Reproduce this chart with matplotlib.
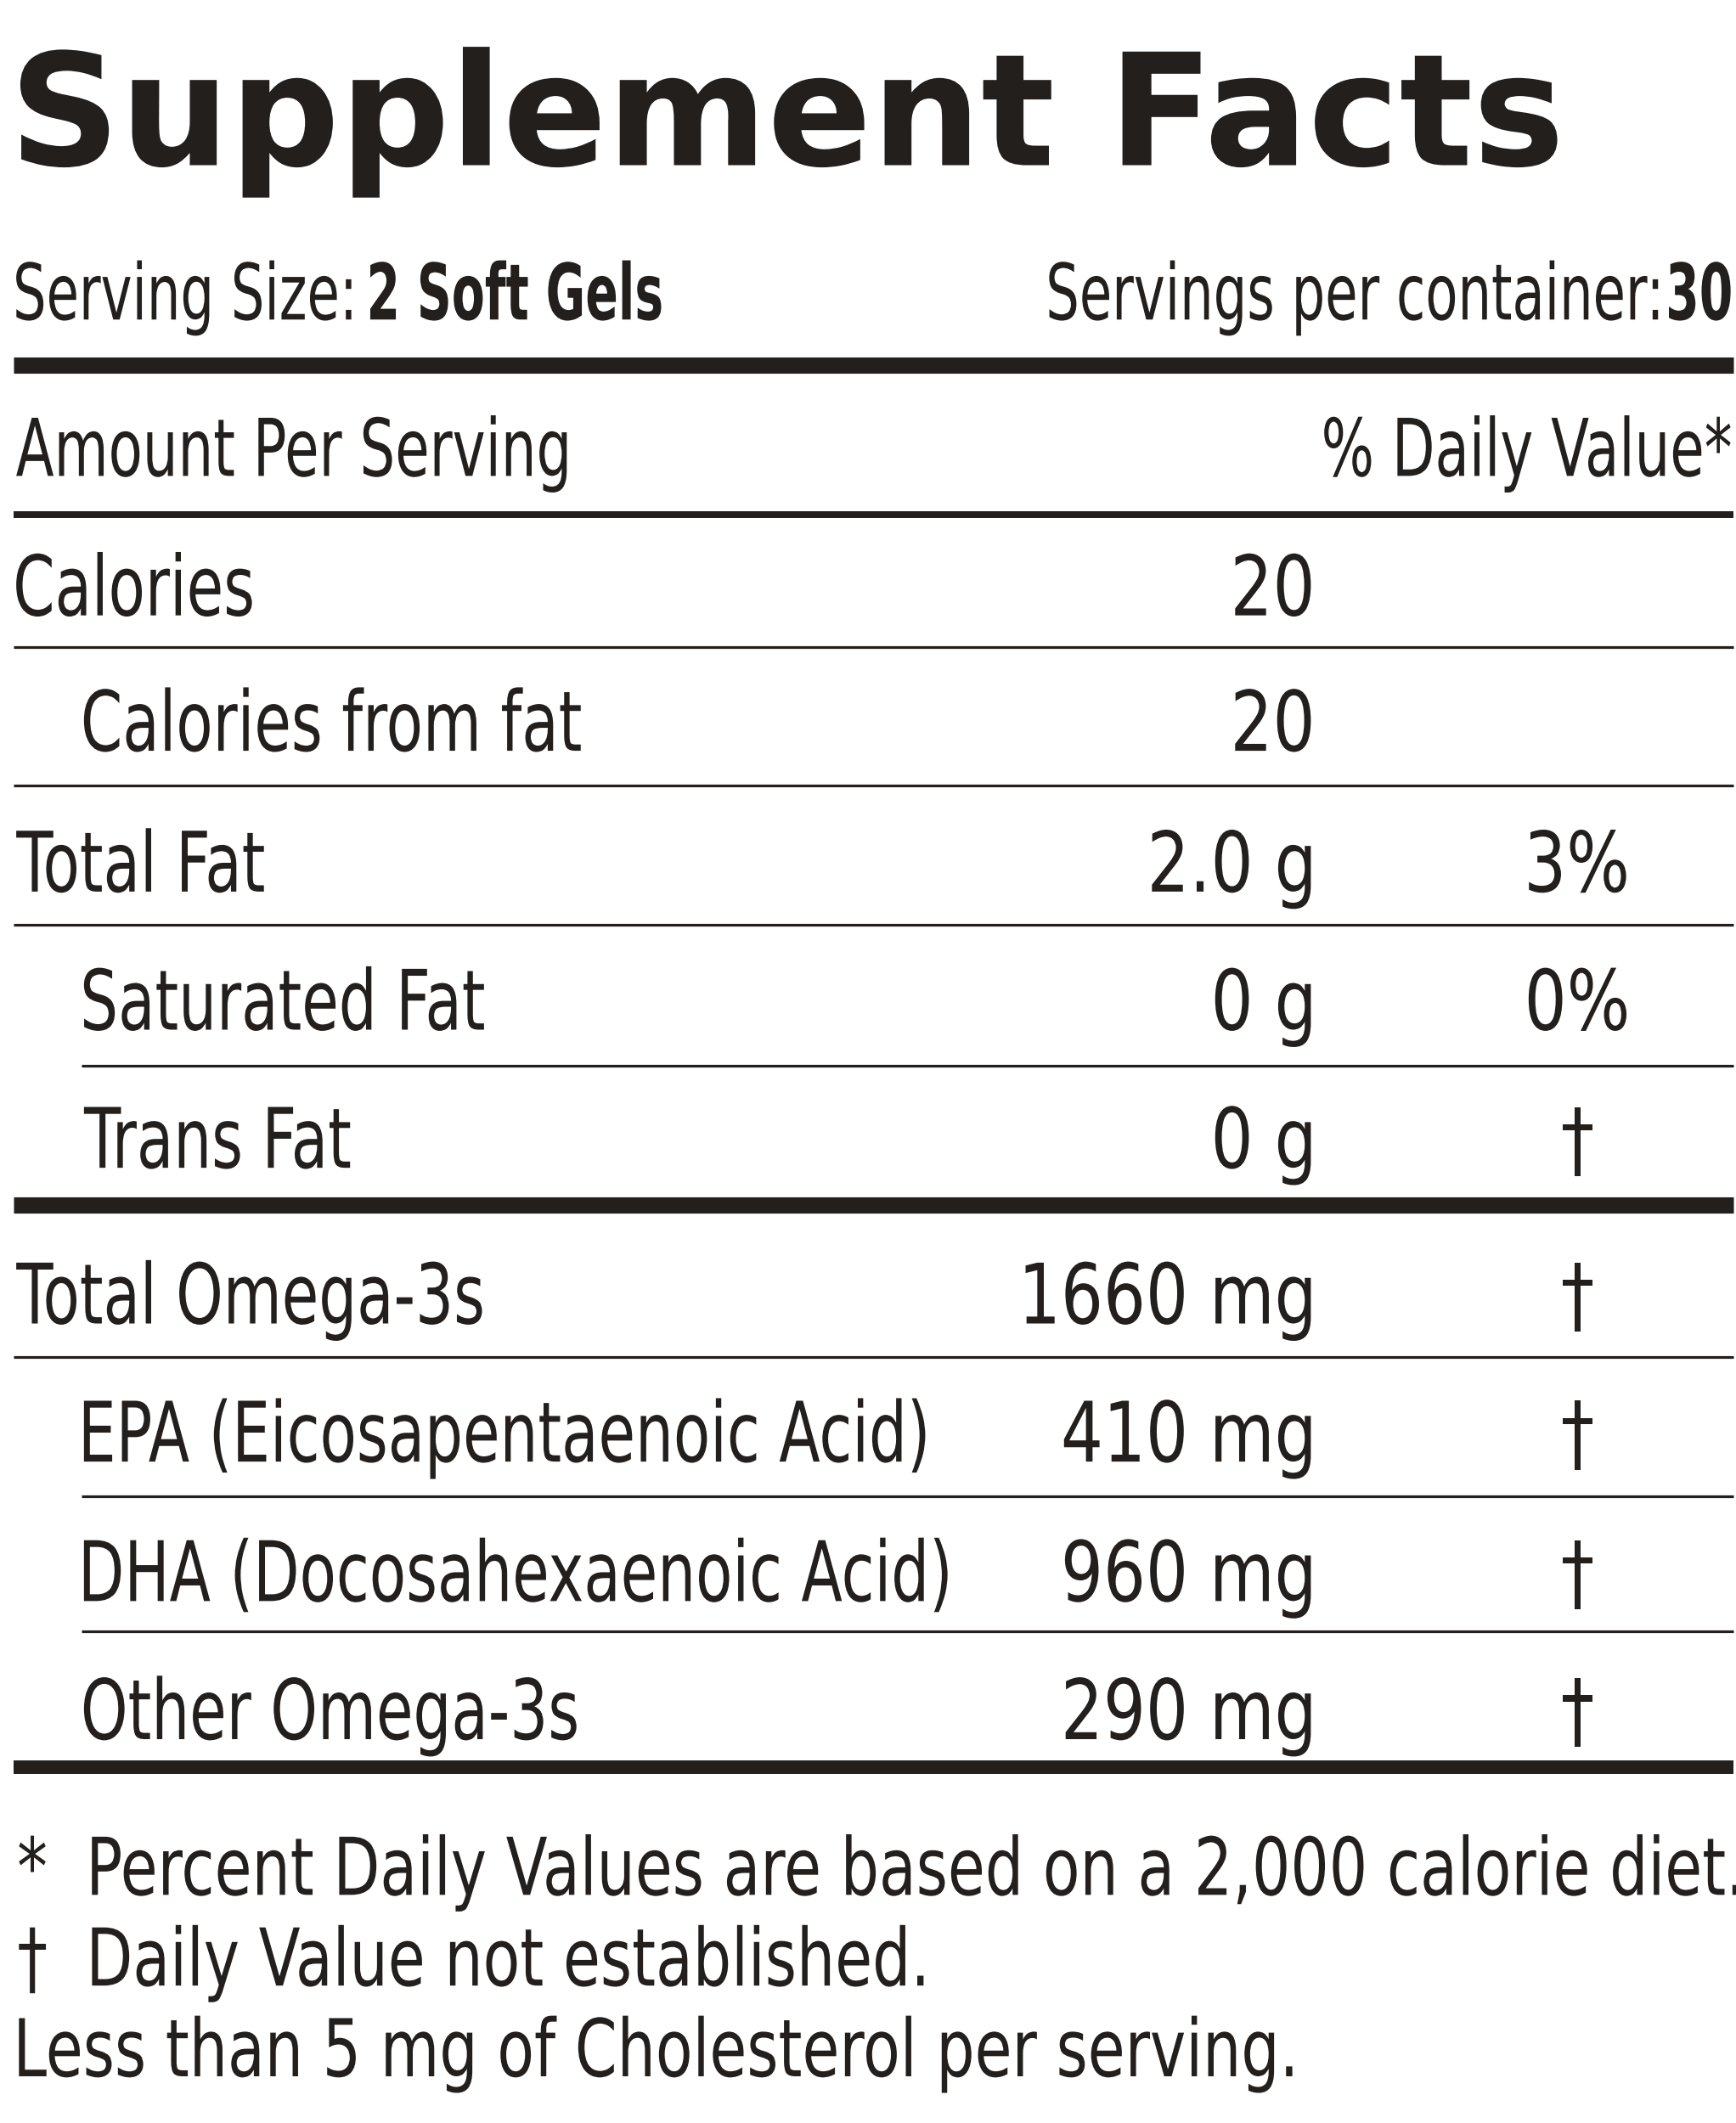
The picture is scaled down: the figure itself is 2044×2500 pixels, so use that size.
import matplotlib
matplotlib.use("Agg")
import matplotlib.pyplot as plt
from matplotlib.textpath import TextPath
from matplotlib.patches import PathPatch
from matplotlib.font_manager import FontProperties
from matplotlib.transforms import Affine2D

labels = ["Calories", "Calories from fat", "Total Fat", "Saturated Fat", "Trans Fat",
          "Total Omega-3s", "EPA (Eicosapentaenoic Acid)", "DHA (Docosahexaenoic Acid)", "Other Omega-3s"]
indent = [0, 1, 0, 1, 1, 0, 1, 1, 1]
amounts = ["20", "20", "2.0 g", "0 g", "0 g", "1660 mg", "410 mg", "960 mg", "290 mg"]
dvs = ["", "", "3%", "0%", "\u2020", "\u2020", "\u2020", "\u2020", "\u2020"]
row_y = [432, 532, 636, 738, 840, 955, 1057, 1160, 1262]
footnotes = ["*  Percent Daily Values are based on a 2,000 calorie diet.",
             "\u2020  Daily Value not established.",
             "Less than 5 mg of Cholesterol per serving."]
foot_y = [1378, 1445, 1512]

fig = plt.figure(figsize=(20.44, 25), dpi=100)
ax = fig.add_axes([0, 0, 1, 1])
ax.set_xlim(0, 1282); ax.set_ylim(1568, 0); ax.axis("off")
col = "#231f1c"

def txt(x, y, s, cap=45, bold=False, ha="left", sx=0.72, width=None):
    fp = FontProperties(family="DejaVu Sans", weight="bold" if bold else "normal")
    size = cap / 0.73
    p = TextPath((0, 0), s, size=size, prop=fp)
    ext = p.get_extents()
    if width is not None:
        sx = width / ext.width
    w = ext.width * sx
    x0 = {"left": x - ext.x0 * sx, "right": x - ext.x1 * sx, "center": x - (ext.x0 + ext.x1) / 2 * sx}[ha]
    tr = Affine2D().scale(sx, -1).translate(x0, y + cap / 2)
    ax.add_patch(PathPatch(tr.transform_path(p), facecolor=col, edgecolor="none"))
    return w

txt(15, 80, "Supplement Facts", cap=84, bold=True, width=1135)
w = txt(12, 215, "Serving Size: ", cap=42, sx=0.68)
txt(12 + w + 14, 215, "2 Soft Gels", cap=42, bold=True, sx=0.62)
w30 = txt(1278, 215, "30", cap=42, bold=True, ha="right", sx=0.62)
txt(1278 - w30 - 8, 215, "Servings per container:", cap=42, ha="right", sx=0.68)

txt(12, 330, "Amount Per Serving", cap=43, sx=0.7)
txt(1278, 330, "% Daily Value*", cap=43, ha="right", sx=0.7)

for lab, ind, a, d, y in zip(labels, indent, amounts, dvs, row_y):
    txt(62 if ind else 12, y, lab, sx=0.72)
    txt(968, y, a, ha="right", sx=0.8)
    if d:
        txt(1165, y, d, ha="center", sx=0.8)

for t, y in zip(footnotes, foot_y):
    txt(14, y, t, cap=43, sx=0.76)

def hline(y, x0, lw):
    ax.plot([x0, 1280], [y, y], color=col, lw=lw * 1.148, solid_capstyle="butt")
hline(270, 10, 12); hline(380, 10, 5)
hline(478, 10, 2); hline(580, 10, 2); hline(683, 10, 2); hline(787, 60, 2)
hline(890, 10, 12); hline(1002, 10, 2); hline(1105, 60, 2); hline(1205, 60, 2)
hline(1305, 10, 10)

fig.savefig("out.png", dpi=100, facecolor="white")
